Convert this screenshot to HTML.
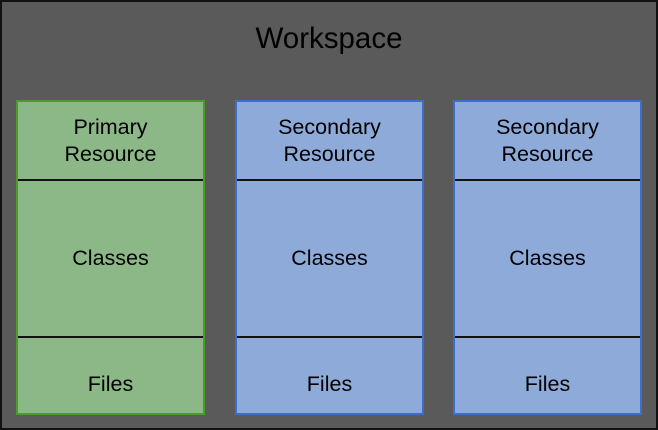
<!DOCTYPE html>
<html><head><style>
html,body{margin:0;padding:0}
body{width:658px;height:430px;position:relative;background:#5a5a5a;overflow:hidden;font-family:"Liberation Sans",sans-serif}
.frame{position:absolute;left:0;top:0;width:654px;height:426px;border:2px solid #111}
.title{position:absolute;left:0;width:658px;top:22px;text-align:center;font-size:29.5px;color:#000}
.col{position:absolute;top:100px;width:185px;height:311px;border:2px solid #3a6fcc;background:#8eaad8}
.col.g{border-color:#4c9a2a;background:#8cb787}
.sec{position:absolute;left:0;width:185px;display:flex;align-items:center;justify-content:center;text-align:center;font-size:21.5px;line-height:27px;color:#000}
.line{position:absolute;left:0;width:185px;height:2px;background:#111}
</style></head><body>
<div class="frame"></div>
<div class="title">Workspace</div>

<div class="col g" style="left:16px">
<div class="sec" style="top:0;height:77px">Primary<br>Resource</div>
<div class="line" style="top:77px"></div>
<div class="sec" style="top:79px;height:155px">Classes</div>
<div class="line" style="top:234px"></div>
<div class="sec" style="top:236px;height:75px;padding-top:18px;box-sizing:border-box">Files</div>
</div>

<div class="col" style="left:235px">
<div class="sec" style="top:0;height:77px">Secondary<br>Resource</div>
<div class="line" style="top:77px"></div>
<div class="sec" style="top:79px;height:155px">Classes</div>
<div class="line" style="top:234px"></div>
<div class="sec" style="top:236px;height:75px;padding-top:18px;box-sizing:border-box">Files</div>
</div>

<div class="col" style="left:453px">
<div class="sec" style="top:0;height:77px">Secondary<br>Resource</div>
<div class="line" style="top:77px"></div>
<div class="sec" style="top:79px;height:155px">Classes</div>
<div class="line" style="top:234px"></div>
<div class="sec" style="top:236px;height:75px;padding-top:18px;box-sizing:border-box">Files</div>
</div>
</body></html>
